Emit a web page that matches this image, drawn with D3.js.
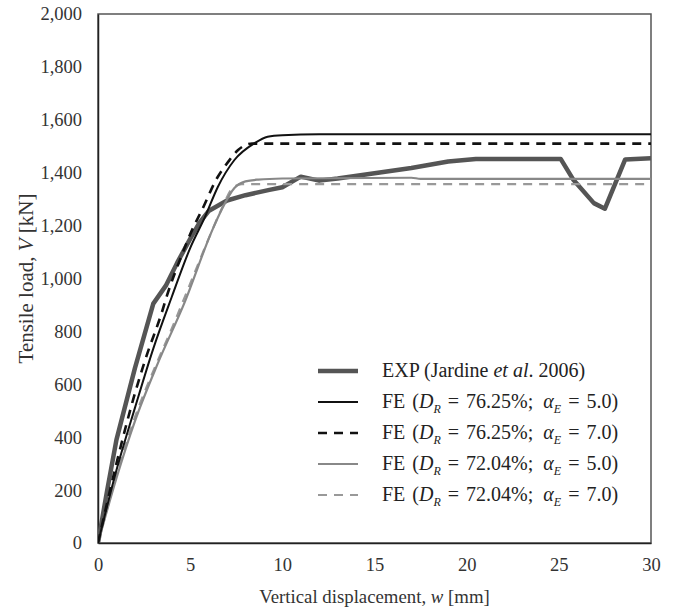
<!DOCTYPE html>
<html>
<head>
<meta charset="utf-8">
<script src="https://cdn.jsdelivr.net/npm/d3@7"></script>
<style>
  body { margin: 0; background: #fff; }
  text { font-family: "Liberation Serif", "Times New Roman", serif; }
</style>
</head>
<body>
<div id="chart"></div>
<script>
// data: [w (mm), V (kN)]
const expData = [[0,0],[0.5,200],[1,390],[2,660],[3,905],[3.7,975],[4.3,1060],[5,1150],[5.5,1210],[6,1255],[7,1295],[8,1315],[9.3,1335],[10,1345],[11,1385],[12,1370],[13,1378],[15,1398],[17,1418],[19,1442],[20.5,1452],[25.1,1452],[25.8,1372],[26.9,1285],[27.5,1264],[28.6,1450],[30,1455]];
const fe1Data = [[0,0],[1,275],[2,510],[3,735],[4,930],[5,1115],[5.8,1232],[6.5,1346],[7.4,1448],[8.5,1512],[9.2,1536],[10,1542],[12,1545],[30,1545]];
const fe2Data = [[0,0],[1,300],[2,565],[2.55,690],[3.5,880],[3.74,935],[4.5,1080],[5.1,1183],[5.64,1259],[6.46,1380],[7.05,1440],[7.6,1486],[8.36,1510],[30,1510]];
const fe3Data = [[0,0],[1,245],[2,460],[3.25,680],[4.7,910],[6.2,1183],[6.7,1259],[7.4,1342],[8,1367],[8.7,1374],[10,1378],[17,1381],[17.5,1377],[30,1377]];
const fe4Data = [[0,0],[1,255],[2,475],[3,650],[4,810],[5,980],[6,1150],[6.7,1262],[7.3,1342],[7.8,1357],[30,1357]];

const xTicks = [0, 5, 10, 15, 20, 25, 30];
const yTicks = [0, 200, 400, 600, 800, 1000, 1200, 1400, 1600, 1800, 2000];

const width = 678, height = 609;
const margin = { top: 14, right: 27, bottom: 66, left: 98 };

const svg = d3.select("#chart").append("svg")
  .attr("width", width)
  .attr("height", height);

const x = d3.scaleLinear().domain([0, 30]).range([margin.left, width - margin.right]);
const y = d3.scaleLinear().domain([0, 2000]).range([height - margin.bottom, margin.top]);

svg.append("defs").append("clipPath").attr("id", "clip")
  .append("rect")
  .attr("x", x(0)).attr("y", y(2000))
  .attr("width", x(30) - x(0)).attr("height", y(0) - y(2000));

// plot frame
svg.append("rect")
  .attr("x", x(0)).attr("y", y(2000))
  .attr("width", x(30) - x(0)).attr("height", y(0) - y(2000))
  .attr("fill", "none")
  .attr("stroke", "#555")
  .attr("stroke-width", 1.5);

// axes
const xAxis = svg.append("g")
  .attr("transform", `translate(0,${y(0)})`)
  .call(d3.axisBottom(x).tickValues(xTicks).tickSize(0).tickPadding(15));
const yAxis = svg.append("g")
  .attr("transform", `translate(${x(0)},0)`)
  .call(d3.axisLeft(y).tickValues(yTicks).tickFormat(d3.format(",")).tickSize(0).tickPadding(16));
[xAxis, yAxis].forEach(g => {
  g.select(".domain").attr("stroke", "#222").attr("stroke-width", 1.5);
  g.selectAll("text")
    .style("font-family", "'Liberation Serif', serif")
    .style("font-size", "18.5px")
    .attr("fill", "#333");
});

// axis titles
const xt = svg.append("text")
  .attr("x", (x(0) + x(30)) / 2)
  .attr("y", 603)
  .attr("text-anchor", "middle")
  .attr("font-size", 18.8)
  .attr("fill", "#333");
xt.append("tspan").text("Vertical displacement, ");
xt.append("tspan").attr("font-style", "italic").text("w");
xt.append("tspan").text(" [mm]");

const yt = svg.append("text")
  .attr("transform", `translate(33,${(y(0) + y(2000)) / 2}) rotate(-90)`)
  .attr("text-anchor", "middle")
  .attr("font-size", 21)
  .attr("fill", "#333");
yt.append("tspan").text("Tensile load, ");
yt.append("tspan").attr("font-style", "italic").text("V");
yt.append("tspan").text(" [kN]");

// series
const series = [
  { name: "exp", data: expData, color: "#555", width: 4.5, dash: null, curve: d3.curveLinear },
  { name: "fe4", data: fe4Data, color: "#999", width: 2.2, dash: "9,7", curve: d3.curveMonotoneX },
  { name: "fe3", data: fe3Data, color: "#888", width: 2.2, dash: null, curve: d3.curveMonotoneX },
  { name: "fe2", data: fe2Data, color: "#111", width: 2.6, dash: "9,7", curve: d3.curveMonotoneX },
  { name: "fe1", data: fe1Data, color: "#111", width: 2, dash: null, curve: d3.curveMonotoneX }
];

const plot = svg.append("g").attr("clip-path", "url(#clip)");
series.forEach(s => {
  const line = d3.line().x(d => x(d[0])).y(d => y(d[1])).curve(s.curve);
  plot.append("path")
    .datum(s.data)
    .attr("d", line)
    .attr("fill", "none")
    .attr("stroke", s.color)
    .attr("stroke-width", s.width)
    .attr("stroke-dasharray", s.dash)
    .attr("stroke-linejoin", "round");
});

// legend
const legendItems = [
  { key: "exp", label: "EXP" },
  { key: "fe1", dr: "76.25%", ae: "5.0" },
  { key: "fe2", dr: "76.25%", ae: "7.0" },
  { key: "fe3", dr: "72.04%", ae: "5.0" },
  { key: "fe4", dr: "72.04%", ae: "7.0" }
];
const legend = svg.append("g");
legendItems.forEach((item, i) => {
  const s = series.find(d => d.name === item.key);
  const ly = 371 + i * 31;
  legend.append("line")
    .attr("x1", 318).attr("x2", 358)
    .attr("y1", ly).attr("y2", ly)
    .attr("stroke", s.color)
    .attr("stroke-width", s.width)
    .attr("stroke-dasharray", s.dash ? "9,7" : null);
  const t = legend.append("text")
    .attr("x", 382).attr("y", ly + 6)
    .attr("font-size", 20)
    .attr("fill", "#222");
  if (item.key === "exp") {
    t.append("tspan").text("EXP (Jardine ");
    t.append("tspan").attr("font-style", "italic").text("et al");
    t.append("tspan").text(". 2006)");
  } else {
    t.attr("word-spacing", 2);
    t.append("tspan").text("FE (");
    t.append("tspan").attr("font-style", "italic").text("D");
    t.append("tspan").attr("font-style", "italic").attr("font-size", 12).attr("dy", 5).text("R");
    t.append("tspan").attr("dy", -5).text(` = ${item.dr};\u2002`);
    t.append("tspan").attr("font-style", "italic").text("α");
    t.append("tspan").attr("font-style", "italic").attr("font-size", 12).attr("dy", 5).text("E");
    t.append("tspan").attr("dy", -5).text(` = ${item.ae})`);
  }
});
</script>
</body>
</html>
